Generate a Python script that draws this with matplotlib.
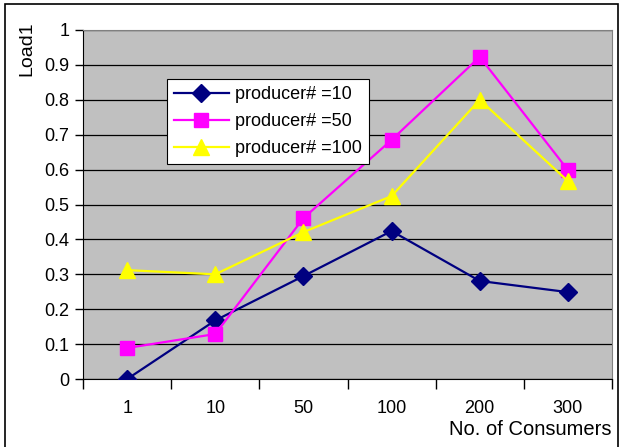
import matplotlib
matplotlib.use("Agg")
import matplotlib.pyplot as plt
from matplotlib.patches import Rectangle

categories = ["1", "10", "50", "100", "200", "300"]
p10 = [0.0, 0.168, 0.295, 0.424, 0.281, 0.249]
p50 = [0.089, 0.129, 0.461, 0.685, 0.923, 0.599]
p100 = [0.312, 0.300, 0.421, 0.524, 0.800, 0.567]
series_labels = ["producer# =10", "producer# =50", "producer# =100"]

plt.rcParams['font.family'] = ['Liberation Sans', 'DejaVu Sans']

fig = plt.figure(figsize=(6.2, 4.47), dpi=100)
ax = fig.add_axes([0.134, 0.152, 0.853, 0.781])
ax.set_facecolor('#C0C0C0')

x = list(range(len(categories)))
ax.plot(x, p10, color='#000080', marker='D', markersize=9, lw=1.6, label=series_labels[0], zorder=3)
ax.plot(x, p50, color='#FF00FF', marker='s', markersize=10, lw=1.6, label=series_labels[1], zorder=3)
ax.plot(x, p100, color='#FFFF00', marker='^', markersize=11, lw=1.6, label=series_labels[2], zorder=3)

ax.set_xlim(-0.5, len(categories) - 0.5)
ax.set_ylim(0, 1)
ax.set_yticks([i / 10 for i in range(11)])
ax.set_yticklabels(['0', '0.1', '0.2', '0.3', '0.4', '0.5', '0.6', '0.7', '0.8', '0.9', '1'])
ax.yaxis.grid(True, color='#000000', lw=0.9)
ax.set_axisbelow(True)

ax.set_xticks(x)
ax.set_xticklabels(categories)
ax.tick_params(axis='x', length=0, pad=15, labelsize=13)
ax.set_xticks([i + 0.5 for i in range(-1, len(categories))], minor=True)
ax.tick_params(axis='x', which='minor', length=7, width=1, color='black', direction='out')
ax.tick_params(axis='y', length=6, width=1, direction='out', labelsize=13, pad=4)

for s in ['top', 'right']:
    ax.spines[s].set_color('#808080')
for s in ['left', 'bottom']:
    ax.spines[s].set_color('black')

fig.text(0.043, 0.952, 'Load1', rotation=90, fontsize=14, ha='center', va='top')
fig.text(0.855, 0.04, 'No. of Consumers', fontsize=14.5, ha='center', va='center')

leg = ax.legend(loc='upper left', bbox_to_anchor=(0.159, 0.86), fontsize=13,
                frameon=True, fancybox=False, edgecolor='black', facecolor='white',
                framealpha=1, borderpad=0.4, labelspacing=0.55, handlelength=3.0,
                handletextpad=0.35, borderaxespad=0)
leg.get_frame().set_linewidth(0.8)

fig.patches.append(Rectangle((0.008, -0.01), 0.988, 1.0, transform=fig.transFigure,
                             fill=False, edgecolor='black', lw=1.2))

fig.savefig('out.png', dpi=100)
